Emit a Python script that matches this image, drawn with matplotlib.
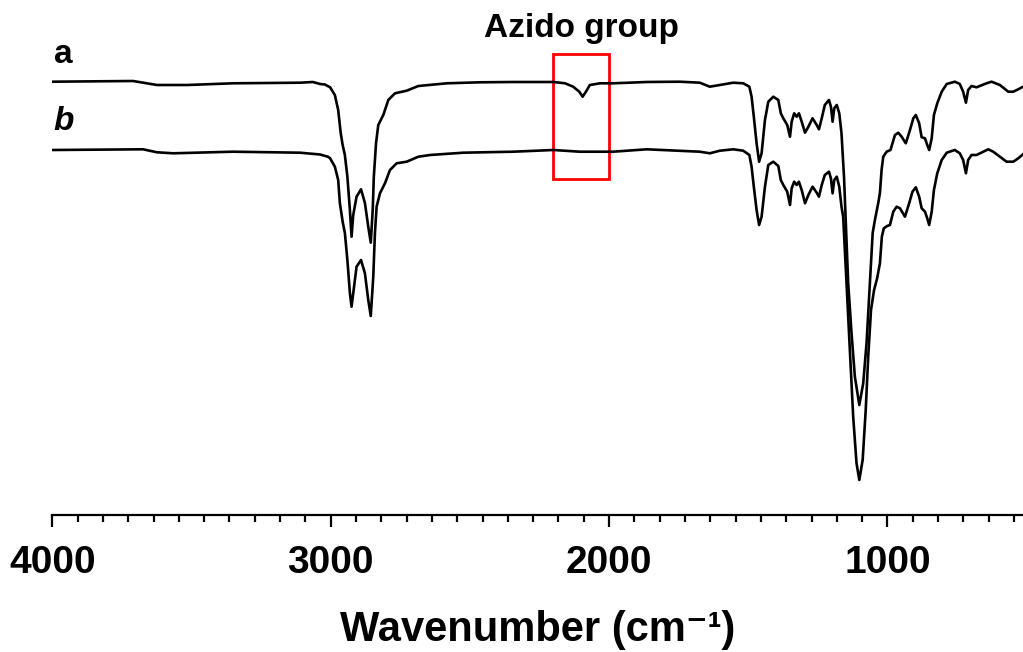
import matplotlib
matplotlib.use("Agg")
import matplotlib.pyplot as plt
from matplotlib.patches import Rectangle
from matplotlib.ticker import AutoMinorLocator

plt.rcParams['font.family'] = ['Liberation Sans', 'DejaVu Sans']
plt.rcParams['font.weight'] = 'bold'

# Spectrum a (with azide), wavenumber (cm-1) and transmittance (a.u.)
wn_a = [4000, 3710, 3624, 3516, 3351, 3243, 3110, 3064, 3038, 3021, 3002, 2985, 2973, 2964, 2957, 2949,
        2940, 2931, 2925, 2919, 2907, 2891, 2877, 2865, 2856, 2849, 2845, 2837, 2829, 2811, 2793, 2769,
        2727, 2685, 2583, 2464, 2344, 2200, 2158, 2129, 2107, 2095, 2083, 2069, 2033, 1985, 1865, 1745,
        1674, 1638, 1602, 1554, 1518, 1496, 1488, 1480, 1470, 1461, 1452, 1440, 1428, 1410, 1392, 1383,
        1374, 1360, 1350, 1344, 1335, 1326, 1318, 1308, 1296, 1284, 1269, 1254, 1246, 1236, 1225, 1210,
        1203, 1197, 1191, 1182, 1173, 1165, 1156, 1149, 1141, 1129, 1117, 1101, 1087, 1075, 1063, 1053,
        1045, 1033, 1027, 1021, 1015, 1003, 989, 973, 961, 949, 934, 919, 907, 898, 886, 877, 865, 857,
        850, 841, 833, 821, 805, 787, 758, 740, 728, 718, 710, 698, 680, 644, 626, 596, 566, 548, 530, 513]
t_a = [433.3, 434, 430, 430, 431.7, 432, 432.3, 433, 431, 430.5, 427.7, 420, 405, 382, 370, 360,
       338.3, 305, 278.3, 300, 318.3, 325.7, 312, 288.3, 272.3, 305, 338.3, 372, 390, 400, 415, 421.7,
       424.3, 429, 431.7, 432.7, 433, 433, 431.7, 428.3, 423.3, 418.3, 423.3, 430, 431.7, 431.7, 433, 433.3,
       432.3, 428.3, 430, 432.3, 431.7, 428.3, 418.3, 398.3, 371.7, 353.3, 361.7, 395, 413.3, 418.3, 415, 401.7,
       396.7, 390, 378.3, 393.3, 401.7, 398.3, 401.7, 393.3, 382.3, 388.3, 396.7, 390, 385.7, 396.7, 410, 415,
       408.3, 393.3, 406.7, 410, 401.7, 381.7, 338.3, 288.3, 232, 182, 138.3, 110, 131.7, 172, 232, 282,
       295, 312, 322, 345, 358.3, 363.3, 365, 380, 382.3, 378.3, 371.7, 385, 396.7, 400, 391.7, 377.7, 376.7, 370,
       365, 376.7, 400, 411.7, 423.3, 431, 433.3, 431, 423.3, 412.3, 425, 429, 427.7, 431.7, 433.3, 430, 423.3, 423.3, 425.7, 428.3]

# Spectrum b (without azide)
wn_b = [4000, 3674, 3624, 3566, 3351, 3110, 3038, 3010, 3002, 2985, 2973, 2967, 2957, 2949, 2940, 2931,
        2925, 2916, 2907, 2891, 2877, 2865, 2856, 2847, 2841, 2835, 2823, 2805, 2787, 2763, 2727, 2685,
        2643, 2524, 2344, 2200, 2105, 1985, 1865, 1674, 1638, 1602, 1554, 1518, 1496, 1488, 1480, 1470,
        1461, 1452, 1440, 1428, 1410, 1392, 1383, 1374, 1360, 1350, 1344, 1335, 1326, 1318, 1308, 1296,
        1284, 1269, 1254, 1246, 1236, 1225, 1210, 1203, 1197, 1191, 1182, 1173, 1165, 1159, 1147, 1135,
        1123, 1111, 1101, 1089, 1078, 1069, 1059, 1048, 1037, 1027, 1020, 1013, 1001, 991, 979, 967, 955,
        937, 922, 910, 898, 886, 877, 865, 857, 850, 841, 833, 821, 805, 787, 758, 740, 728, 718, 710,
        698, 680, 638, 620, 596, 572, 548, 530, 513]
t_b = [365, 365.7, 362.7, 361.7, 363.3, 362.3, 360.5, 358.3, 356.7, 348.3, 335, 312, 293.3, 282, 255, 222,
       208.3, 228.3, 248.3, 255, 241.7, 215, 199, 238.3, 282, 308.3, 321.7, 331.7, 345, 351.7, 353.3, 358.3,
       360, 362.3, 363.3, 365, 363.3, 363.3, 365.7, 363.3, 361.7, 364.3, 365.7, 364.3, 360, 348.3, 328.3, 305,
       290, 298.3, 328.3, 350, 353.3, 349, 335, 330, 323.3, 310, 326.7, 333.3, 330, 333.3, 325, 311.7,
       320, 328.3, 322.3, 318.3, 330, 340, 343.3, 336.7, 321.7, 335, 338.3, 328.3, 308.3, 298.3, 232, 165,
       98.3, 51.7, 35, 55, 105, 158.3, 205, 225, 236.7, 251.7, 278.3, 286.7, 289, 290, 303.3, 308.3, 306.7,
       298.3, 311.7, 323.3, 327.7, 318.3, 306.7, 303.3, 296.7, 290, 303.3, 325, 341.7, 355, 362.3, 365, 361.7, 355, 341.7, 355,
       360, 360, 365.7, 363.3, 358.3, 353.3, 353.3, 356.7, 360.7]

x_major = [4000, 3000, 2000, 1000]
x_labels = ['4000', '3000', '2000', '1000']
box_range = (2200, 2000)

W, H = 1023, 652
fig = plt.figure(figsize=(W / 100, H / 100), dpi=100)
ax = fig.add_axes([52.3 / W, (H - 515) / H, (W - 52.3) / W, 515 / H])

ax.plot(wn_a, t_a, color='black', lw=1.9, solid_joinstyle='round')
ax.plot(wn_b, t_b, color='black', lw=1.9, solid_joinstyle='round')

ax.set_xlim(4000, 513)
ax.set_ylim(0, 515)

for s in ['top', 'left', 'right']:
    ax.spines[s].set_visible(False)
ax.spines['bottom'].set_linewidth(1.6)
ax.set_yticks([])
ax.set_xticks(x_major)
ax.set_xticklabels(x_labels, fontsize=28, fontweight='bold')
ax.xaxis.set_minor_locator(AutoMinorLocator(11))
ax.tick_params(axis='x', which='major', length=8.6, width=1.6, direction='out', pad=13)
ax.tick_params(axis='x', which='minor', length=5, width=1.6, direction='out')
ax.set_xlabel('Wavenumber (cm\u207b\u00b9)', fontsize=30, fontweight='bold', labelpad=21)

ax.text(3995, 452, 'a', fontsize=24, fontweight='bold', ha='left', va='baseline')
ax.text(3995, 385, 'b', fontsize=24, fontweight='bold', style='italic', ha='left', va='baseline')
ax.text(2100, 478, 'Azido group', fontsize=24, fontweight='bold', ha='center', va='baseline')

ax.add_patch(Rectangle((box_range[1], 336), box_range[0] - box_range[1], 124.7,
                       fill=False, edgecolor='red', lw=2, clip_on=False))

fig.savefig('out.png', dpi=100)
